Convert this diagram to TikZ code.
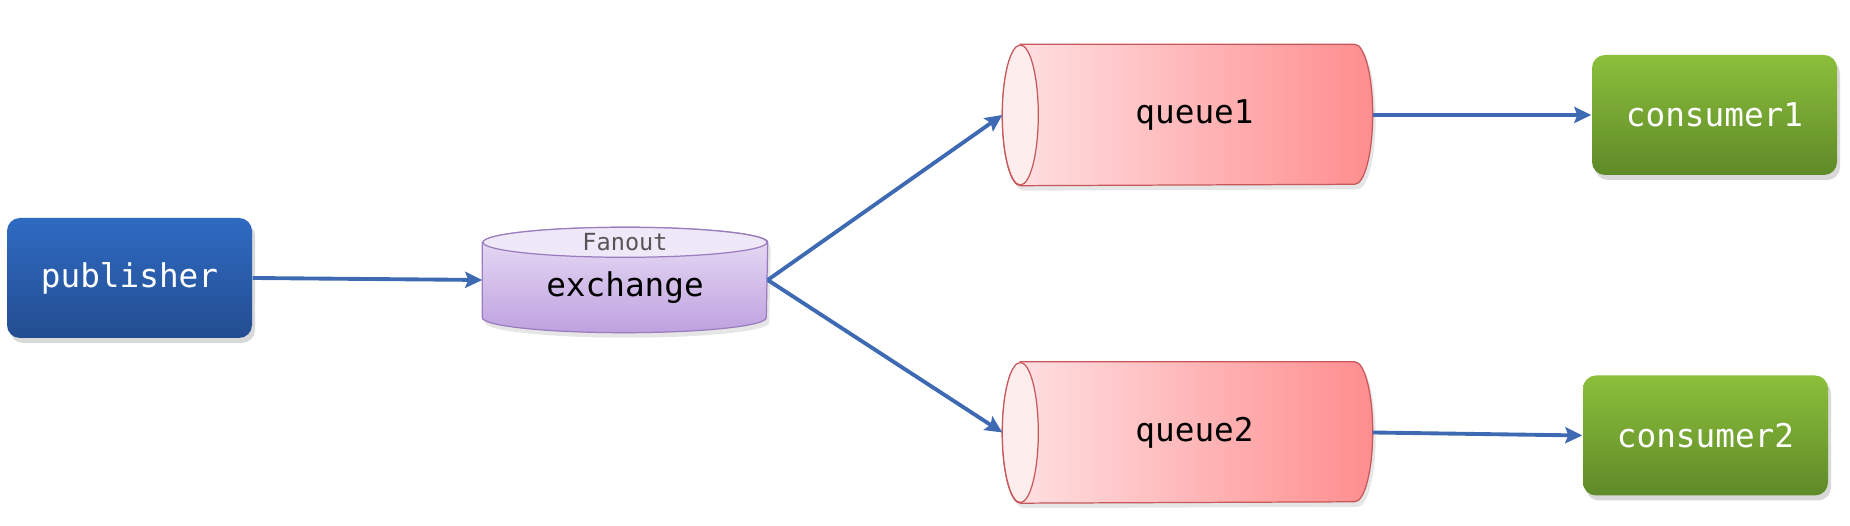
\documentclass[tikz,border=0pt]{standalone}
\usepackage{fontspec}
\setmonofont{DejaVu Sans Mono}
\usetikzlibrary{positioning,arrows.meta,shadows,backgrounds}
\definecolor{pubtop}{HTML}{2F6BC2}
\definecolor{pubbot}{HTML}{234D91}
\definecolor{contop}{HTML}{8CBF3B}
\definecolor{conbot}{HTML}{5E8A28}
\definecolor{exctop}{HTML}{EAE0F6}
\definecolor{excbot}{HTML}{BEA1DF}
\definecolor{exccap}{HTML}{EFE8F8}
\definecolor{excline}{HTML}{9B7DBE}
\definecolor{queleft}{HTML}{FFE3E5}
\definecolor{queright}{HTML}{FF8D8E}
\definecolor{quecap}{HTML}{FDEDED}
\definecolor{queline}{HTML}{C6575A}
\definecolor{carrow}{HTML}{3D6AB2}
\definecolor{cfan}{HTML}{555555}

\begin{document}
\begin{tikzpicture}[
  box/.style={rectangle, rounded corners=1.3mm, minimum width=24.5mm, minimum height=12mm,
              text=white, font=\ttfamily\fontsize{9.3}{11}\selectfont,
              drop shadow={shadow xshift=0.3mm, shadow yshift=-0.5mm, opacity=0.3}},
  pub/.style={box, top color=pubtop, bottom color=pubbot},
  con/.style={box, top color=contop, bottom color=conbot},
  qtext/.style={rectangle, inner sep=0pt, minimum width=33.3mm, minimum height=14mm,
                font=\ttfamily\fontsize{9.3}{11}\selectfont, text=black},
  etext/.style={rectangle, inner sep=0pt, minimum width=28.4mm, minimum height=7.4mm,
                text height=4mm, text depth=0.7mm,
                font=\ttfamily\fontsize{9.3}{11}\selectfont, text=black},
  fan/.style={inner sep=0pt, font=\ttfamily\fontsize{6.7}{8}\selectfont, text=cfan},
  qbody/.style={left color=queleft, right color=queright, draw=queline, line width=0.35pt,
                drop shadow={shadow xshift=0.3mm, shadow yshift=-0.5mm, opacity=0.2}},
  qcap/.style={fill=quecap, draw=queline, line width=0.35pt},
  ebody/.style={top color=exctop, bottom color=excbot, draw=excline, line width=0.35pt,
                drop shadow={shadow xshift=0.3mm, shadow yshift=-0.5mm, opacity=0.2}},
  ecap/.style={fill=exccap, draw=excline, line width=0.35pt},
  arr/.style={-{Stealth[length=1.7mm, width=1.6mm, inset=0.3mm]}, line width=1.1pt, carrow}
]
\useasboundingbox (0,0) rectangle (185mm,52.6mm);

% --- nodes ---
\node[pub] (pub) at (12.95mm,24.8mm) {publisher};
\node[etext] (ex) at (62.5mm,24.6mm) {exchange};
\node[fan] (fan) at (ex.north) {Fanout};
\node[qtext] (q1) at (118.75mm,41.1mm) {\hspace{1.4mm}queue1};
\node[qtext] (q2) at (118.75mm,9.35mm) {\hspace{1.4mm}queue2};
\node[con] (c1) at (171.45mm,41.1mm) {consumer1};
\node[con] (c2) at (170.55mm,9.05mm) {consumer2};

% --- cylinder bodies ---
\begin{scope}[on background layer]
  \shade[ebody] (ex.north west) -- (ex.south west)
    arc[start angle=180, end angle=360, x radius=14.2mm, y radius=1.5mm]
    -- (ex.north east) arc[start angle=0, end angle=180, x radius=14.2mm, y radius=1.5mm] -- cycle;
  \filldraw[ecap] (ex.north) ellipse[x radius=14.2mm, y radius=1.5mm];
  \foreach \q in {q1,q2} {
    \shade[qbody] (\q.north west) -- (\q.north east)
      arc[start angle=90, end angle=-90, x radius=1.8mm, y radius=7mm]
      -- (\q.south west) arc[start angle=270, end angle=90, x radius=1.8mm, y radius=7mm] -- cycle;
    \filldraw[qcap] (\q.west) ellipse[x radius=1.8mm, y radius=7mm];
  }
\end{scope}

% --- connectors ---
\draw[arr] (pub.east) -- (ex.west);
\draw[arr] (ex.east) -- ([xshift=-1.8mm]q1.west);
\draw[arr] (ex.east) -- ([xshift=-1.8mm]q2.west);
\draw[arr] ([xshift=1.8mm]q1.east) -- (c1.west);
\draw[arr] ([xshift=1.8mm]q2.east) -- (c2.west);

\end{tikzpicture}
\end{document}
